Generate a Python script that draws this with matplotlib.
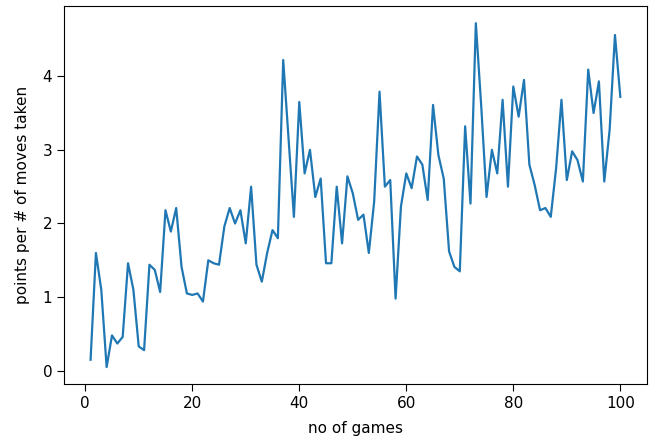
import numpy as np
import matplotlib.pyplot as plt

games = np.arange(1, 101)
points = [
    0.15, 1.60, 1.10, 0.05, 0.48, 0.37, 0.46, 1.46, 1.10, 0.33,
    0.28, 1.44, 1.37, 1.07, 2.18, 1.89, 2.21, 1.41, 1.05, 1.03,
    1.05, 0.94, 1.50, 1.46, 1.44, 1.96, 2.21, 2.00, 2.18, 1.73,
    2.50, 1.44, 1.21, 1.60, 1.91, 1.80, 4.22, 3.15, 2.09, 3.65,
    2.68, 3.00, 2.36, 2.61, 1.46, 1.46, 2.50, 1.73, 2.64, 2.41,
    2.05, 2.12, 1.60, 2.30, 3.79, 2.50, 2.59, 0.98, 2.23, 2.68,
    2.48, 2.91, 2.80, 2.32, 3.61, 2.93, 2.61, 1.62, 1.41, 1.35,
    3.32, 2.27, 4.72, 3.60, 2.36, 3.00, 2.68, 3.68, 2.50, 3.86,
    3.45, 3.95, 2.80, 2.52, 2.18, 2.21, 2.09, 2.75, 3.68, 2.59,
    2.98, 2.86, 2.57, 4.09, 3.50, 3.93, 2.57, 3.27, 4.56, 3.72,
]

fig = plt.figure(figsize=(6.54, 4.44), dpi=100)
ax = fig.add_axes([0.098, 0.1345, 0.891, 0.852])
ax.plot(games, points, linewidth=1.6)
ax.set_xlabel("no of games", fontsize=11, labelpad=7)
ax.set_ylabel("points per # of moves taken", fontsize=11, labelpad=9)
ax.tick_params(labelsize=11, length=5)
fig.savefig("out.png")
